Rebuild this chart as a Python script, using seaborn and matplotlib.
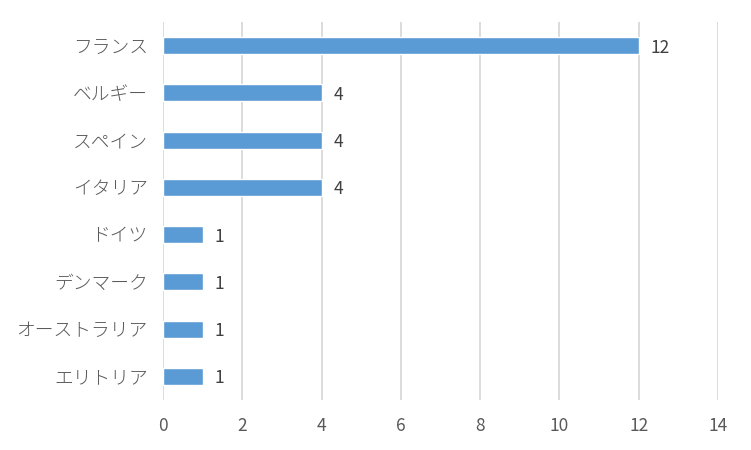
import matplotlib
matplotlib.use("Agg")
import matplotlib.pyplot as plt
import seaborn as sns
import pandas as pd

# data
countries = ["フランス", "ベルギー", "スペイン", "イタリア", "ドイツ", "デンマーク", "オーストラリア", "エリトリア"]
counts = [12, 4, 4, 4, 1, 1, 1, 1]
xticks = [0, 2, 4, 6, 8, 10, 12, 14]

df = pd.DataFrame({"国": countries, "数": counts})

sns.set_theme(style="white")
plt.rcParams["font.family"] = ["Noto Sans CJK JP", "DejaVu Sans"]

fig = plt.figure(figsize=(7.51, 4.5), dpi=100)
ax = fig.add_axes([0.217, 0.111, 0.739, 0.840])

sns.barplot(data=df, y="国", x="数", orient="h", color="#5B9BD5",
            width=0.36, saturation=1, ax=ax, zorder=3)

# value labels, nudged a touch below bar centre like the original
for i, v in enumerate(counts):
    ax.text(v + 0.3, i + 0.04, str(v), va="center", ha="left", fontsize=12.5, color="#404040")

ax.set_xlim(0, 14)
ax.set_ylim(7.5, -0.5)
ax.set_xticks(xticks)
ax.set_xlabel("")
ax.set_ylabel("")
ax.grid(axis="x", color="#D9D9D9", linewidth=1.3, zorder=0)
for s in ax.spines.values():
    s.set_visible(False)
ax.tick_params(axis="both", length=0, labelcolor="#595959")
ax.tick_params(axis="x", pad=12, labelsize=12.5)
ax.tick_params(axis="y", pad=11, labelsize=13.5)
for lbl in ax.get_yticklabels():
    lbl.set_fontweight("light")

plt.savefig("out.png", dpi=100)
